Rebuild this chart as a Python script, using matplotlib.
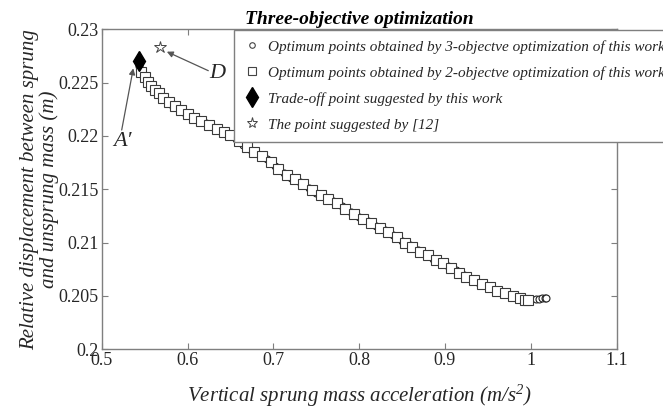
import matplotlib
matplotlib.use('Agg')
import matplotlib.pyplot as plt
from matplotlib.lines import Line2D
from matplotlib.ticker import FixedLocator, FuncFormatter

# 2-objective optimum points
x2 = [0.546, 0.550, 0.554, 0.558, 0.562, 0.567, 0.572, 0.578, 0.585, 0.592,
      0.600, 0.608, 0.616, 0.625, 0.634, 0.642, 0.650, 0.660, 0.669, 0.678,
      0.687, 0.697, 0.706, 0.716, 0.725, 0.735, 0.745, 0.755, 0.764, 0.774,
      0.784, 0.794, 0.804, 0.814, 0.824, 0.834, 0.844, 0.853, 0.862, 0.871,
      0.880, 0.889, 0.898, 0.907, 0.916, 0.925, 0.934, 0.943, 0.952, 0.961,
      0.970, 0.979, 0.987, 0.993, 0.997]
y2 = [0.2260, 0.2255, 0.2251, 0.2247, 0.2243, 0.2240, 0.2236, 0.2232, 0.2228, 0.2224,
      0.2221, 0.2217, 0.2214, 0.2210, 0.2207, 0.2204, 0.2201, 0.2195, 0.2190, 0.2185,
      0.2181, 0.2176, 0.2169, 0.2163, 0.2160, 0.2155, 0.2149, 0.2145, 0.2141, 0.2137,
      0.2132, 0.2127, 0.2122, 0.2118, 0.2114, 0.2110, 0.2105, 0.2100, 0.2096, 0.2091,
      0.2088, 0.2084, 0.2081, 0.2076, 0.2072, 0.2068, 0.2065, 0.2061, 0.2058, 0.2055,
      0.2053, 0.2050, 0.2048, 0.2046, 0.2046]

# 3-objective optimum points
x3 = [0.544, 0.548, 0.552, 0.556, 0.560, 0.565, 0.570, 0.576, 0.582, 0.589,
      0.597, 0.605, 0.613, 0.621, 0.630, 0.638, 0.647, 0.656, 0.665, 0.674,
      0.684, 0.693, 0.702, 0.712, 0.721, 0.731, 0.741, 0.750, 0.760, 0.770,
      0.780, 0.790, 0.800, 0.810, 0.820, 0.830, 0.840, 0.850, 0.859, 0.868,
      0.877, 0.886, 0.895, 0.904, 0.913, 0.922, 0.931, 0.940, 0.949, 0.958,
      0.967, 0.976, 0.984, 0.991, 0.996, 1.006, 1.010, 1.013, 1.016, 1.018]
y3 = [0.2266, 0.2258, 0.2253, 0.2249, 0.2245, 0.2241, 0.2237, 0.2233, 0.2229, 0.2226,
      0.2222, 0.2218, 0.2215, 0.2212, 0.2208, 0.2205, 0.2202, 0.2197, 0.2192, 0.2187,
      0.2182, 0.2178, 0.2172, 0.2165, 0.2161, 0.2157, 0.2151, 0.2147, 0.2143, 0.2139,
      0.2134, 0.2129, 0.2124, 0.2120, 0.2116, 0.2112, 0.2107, 0.2102, 0.2098, 0.2093,
      0.2089, 0.2085, 0.2082, 0.2078, 0.2074, 0.2070, 0.2066, 0.2062, 0.2059, 0.2056,
      0.2054, 0.2051, 0.2049, 0.2047, 0.2046, 0.2047, 0.2047, 0.2048, 0.2048, 0.2048]

tradeoff = (0.5432, 0.2270)
ref12 = (0.5680, 0.2283)

x_ticks = [0.5, 0.6, 0.7, 0.8, 0.9, 1.0, 1.1]
y_ticks = [0.2, 0.205, 0.21, 0.215, 0.22, 0.225, 0.23]

labels = ['Optimum points obtained by 3-objectve optimization of this work',
          'Optimum points obtained by 2-objectve optimization of this work',
          'Trade-off point suggested by this work',
          'The point suggested by [12]']

plt.rcParams['font.family'] = ['Liberation Serif', 'DejaVu Serif']
plt.rcParams['mathtext.fontset'] = 'custom'
plt.rcParams['mathtext.rm'] = 'Liberation Serif:italic'
plt.rcParams['mathtext.it'] = 'Liberation Serif:italic'

txt = '#262626'
spine = '#7f7f7f'

fig = plt.figure(figsize=(6.63, 4.08), dpi=100)
ax = fig.add_axes([0.1534, 0.1438, 0.7766, 0.7844])

ax.plot(x3, y3, linestyle='none', marker='o', ms=5, mfc='white', mec='#222222', mew=0.8, zorder=2)
ax.plot(x2, y2, linestyle='none', marker='s', ms=6.5, mfc='white', mec='#3a3a3a', mew=0.8, zorder=3)
ax.plot(*tradeoff, linestyle='none', marker='d', ms=10, mfc='black', mec='black', zorder=4)
ax.plot(*ref12, linestyle='none', marker='*', ms=9, mfc='white', mec='#444444', mew=0.7, zorder=4)

arrow = dict(arrowstyle='-|>', color='#555555', lw=0.9, mutation_scale=9, shrinkA=0, shrinkB=0)
ax.annotate('', xy=(0.5759, 0.2279), xytext=(0.6242, 0.22612), arrowprops=arrow)
ax.text(0.6352, 0.22588, 'D', fontsize=16, style='italic', color=txt, ha='center', va='center')
ax.annotate('', xy=(0.5368, 0.22634), xytext=(0.5233, 0.22056), arrowprops=arrow)
ax.text(0.5245, 0.21946, "A\u2032", fontsize=16, style='italic', color=txt, ha='center', va='center')

ax.set_xlim(0.5, 1.1)
ax.set_ylim(0.2, 0.23)
ax.xaxis.set_major_locator(FixedLocator(x_ticks))
ax.yaxis.set_major_locator(FixedLocator(y_ticks))
fmt = FuncFormatter(lambda v, p: '%g' % round(v, 4))
ax.xaxis.set_major_formatter(fmt)
ax.yaxis.set_major_formatter(fmt)
ax.tick_params(direction='in', top=True, right=True, length=4, width=0.8, color=spine,
               labelsize=13, labelcolor=txt, pad=2)
for s in ax.spines.values():
    s.set_color(spine)
    s.set_linewidth(1.0)

ax.set_xlabel('Vertical sprung mass acceleration (m/s$^{2}$)', fontsize=15, style='italic',
              color=txt, labelpad=10)
ax.set_ylabel('Relative displacement between sprung\nand unsprung mass (m)', fontsize=15,
              style='italic', color=txt, labelpad=0, linespacing=0.95)
ax.set_title('Three-objective optimization', fontsize=14, fontweight='bold', style='italic',
             color='black', pad=4)

handles = [Line2D([], [], linestyle='none', marker='o', ms=4, mfc='white', mec='#444444', mew=0.8),
           Line2D([], [], linestyle='none', marker='s', ms=6, mfc='white', mec='#444444', mew=0.8),
           Line2D([], [], linestyle='none', marker='d', ms=10, mfc='black', mec='black'),
           Line2D([], [], linestyle='none', marker='*', ms=8, mfc='white', mec='#444444', mew=0.7)]
leg = fig.legend(handles, labels, loc='upper left', bbox_to_anchor=(234 / 663, 1 - 30 / 408),
                 prop={'style': 'italic', 'size': 11}, frameon=True, fancybox=False,
                 edgecolor=spine, framealpha=1, borderpad=0.65, labelspacing=0.8,
                 handlelength=1.0, handletextpad=0.6, borderaxespad=0)
leg.get_frame().set_linewidth(1.0)
for t in leg.get_texts():
    t.set_color(txt)

fig.savefig('out.png', dpi=100)
